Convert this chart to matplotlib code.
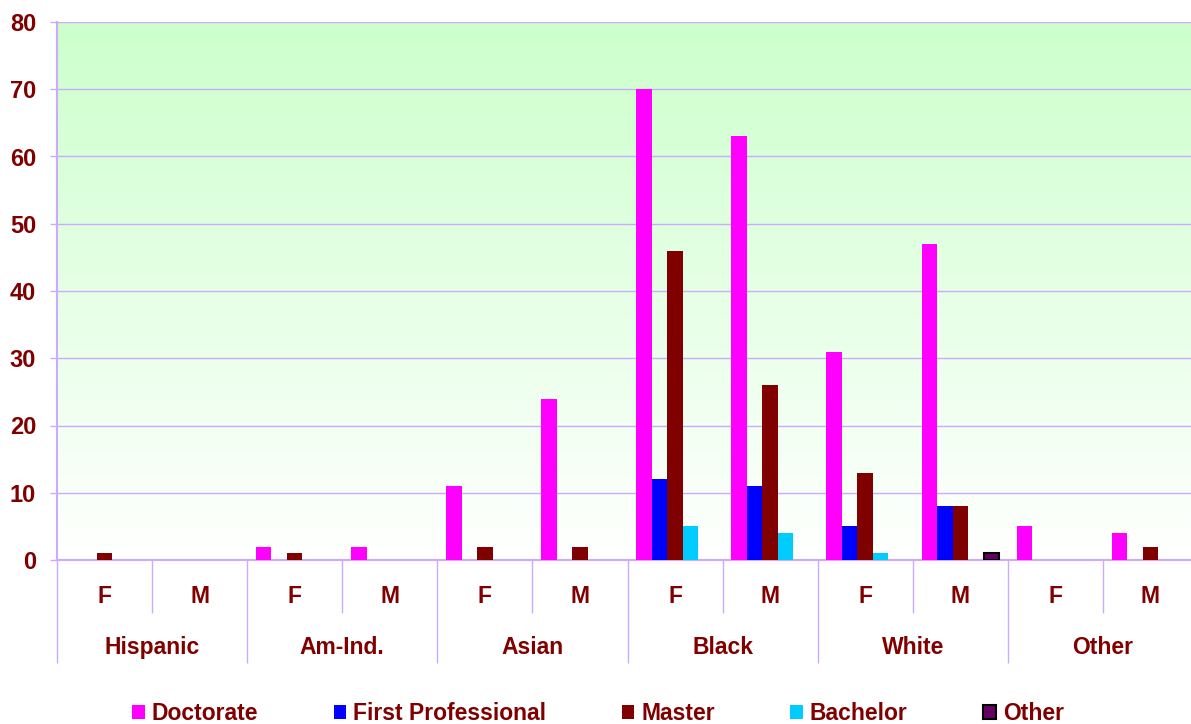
import numpy as np
import matplotlib.pyplot as plt
from matplotlib.colors import LinearSegmentedColormap

plt.rcParams['font.family'] = ['Liberation Sans', 'DejaVu Sans']

groups = ['Hispanic', 'Am-Ind.', 'Asian', 'Black', 'White', 'Other']
sexes = ['F', 'M']
series = ['Doctorate', 'First Professional', 'Master', 'Bachelor', 'Other']

# one value per group/sex column: Hisp F, Hisp M, AmInd F, AmInd M, Asian F, Asian M,
# Black F, Black M, White F, White M, Other F, Other M
doctorate = [0, 0, 2, 2, 11, 24, 70, 63, 31, 47, 5, 4]
first_prof = [0, 0, 0, 0, 0, 0, 12, 11, 5, 8, 0, 0]
master = [1, 0, 1, 0, 2, 2, 46, 26, 13, 8, 0, 2]
bachelor = [0, 0, 0, 0, 0, 0, 5, 4, 1, 0, 0, 0]
other = [0, 0, 0, 0, 0, 0, 0, 0, 0, 1, 0, 0]

values = [doctorate, first_prof, master, bachelor, other]
colors = ['#FF00FF', '#0000FF', '#800000', '#00CCFF', '#660066']
edges = [None, None, None, None, 'black']
txt = '#800000'
grid_c = '#CCAAFF'
fs = 16.5

fig = plt.figure(figsize=(11.91, 7.24), dpi=100)
# plot area runs a little past the right edge, as in the original
ax = fig.add_axes([57/1191, 1-560/724, 1141/1191, (560-22)/724])

n = len(doctorate)
x = np.arange(n)
w = 0.163

# green-to-white background
cmap = LinearSegmentedColormap.from_list('bg', ['#FFFFFF', '#CCFFCC'])
ax.imshow(np.linspace(0, 1, 256).reshape(-1, 1), cmap=cmap, aspect='auto',
          extent=(-0.5, n-0.5, 0, 80), origin='lower', zorder=0)

for i, (vals, c, ec) in enumerate(zip(values, colors, edges)):
    vals = np.array(vals, dtype=float)
    vals[vals == 0] = np.nan  # no stubs for empty cells
    ax.bar(x + (i-2)*w, vals, width=w, color=c,
           edgecolor=ec if ec else c, linewidth=1.5 if ec else 0,
           label=series[i], zorder=3)

ax.set_xlim(-0.5, n-0.5)
ax.set_ylim(0, 80)
ax.set_yticks(np.arange(0, 81, 10))
ax.yaxis.grid(True, color=grid_c, linewidth=1, zorder=1)
ax.set_axisbelow(False)
ax.tick_params(axis='y', colors=grid_c, length=5, width=1, pad=10,
               labelcolor=txt, labelsize=fs + 0.5)
for lab in ax.get_yticklabels():
    lab.set_fontweight('bold')

for s in ['top', 'right']:
    ax.spines[s].set_visible(False)
for s in ['left', 'bottom']:
    ax.spines[s].set_color(grid_c)
    ax.spines[s].set_linewidth(1.5)

# two-level category axis built from ticks
ax.set_xticks(np.arange(-0.5, n, 2))
ax.set_xticks(np.arange(0.5, n, 2), minor=True)
ax.tick_params(axis='x', which='major', direction='out', length=74,
               width=1, color=grid_c, labelbottom=False)
ax.tick_params(axis='x', which='minor', direction='out', length=38,
               width=1, color=grid_c, labelbottom=False)

trans = ax.get_xaxis_transform()
for k in range(n):
    ax.text(x[k], -0.068, sexes[k % 2], transform=trans, ha='center', va='center',
            fontsize=fs, fontweight='bold', color=txt)
for g, name in enumerate(groups):
    ax.text(2*g + 0.5, -0.163, name, transform=trans, ha='center', va='center',
            fontsize=fs, fontweight='bold', color=txt)

leg = fig.legend(loc='center', bbox_to_anchor=(0.502, 1-714/724), ncol=5,
                 frameon=False, fontsize=fs, handlelength=0.55, handleheight=0.55,
                 handletextpad=0.3, columnspacing=3.3)
for t in leg.get_texts():
    t.set_color(txt)
    t.set_fontweight('bold')

fig.savefig('out.png', dpi=100)
